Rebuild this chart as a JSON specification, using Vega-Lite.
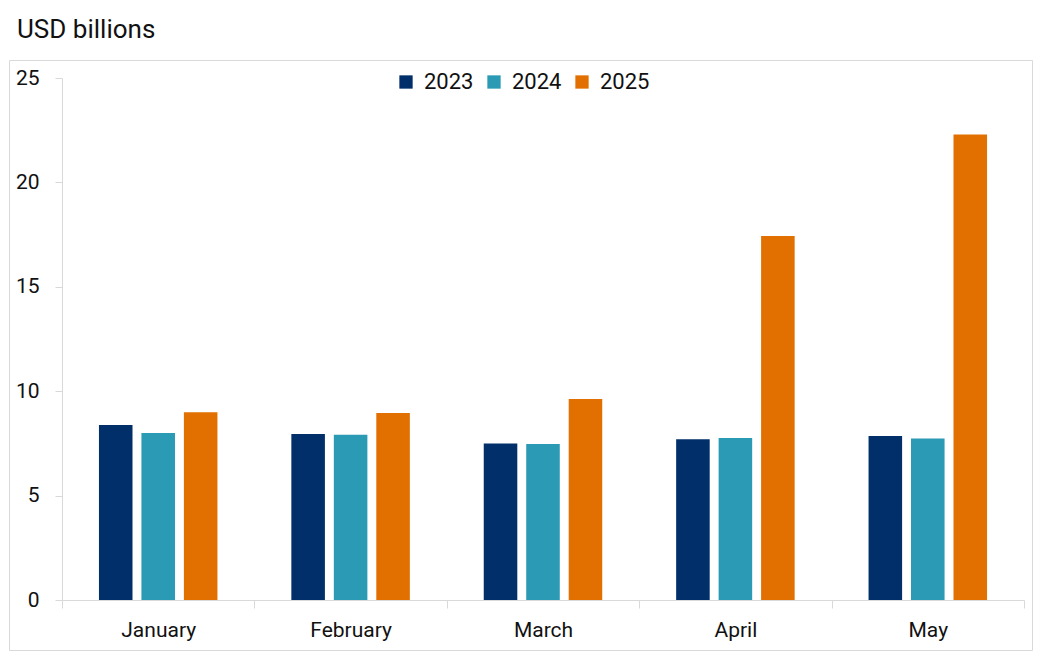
{
  "$schema": "https://vega.github.io/schema/vega-lite/v6.json",
  "width": 1023,
  "height": 590,
  "autosize": {"type": "none"},
  "padding": {"left": 9, "top": 60, "right": 20, "bottom": 1},
  "background": "white",
  "title": {
    "text": "USD billions",
    "anchor": "start",
    "frame": "group",
    "dx": 8,
    "dy": 28,
    "offset": 24,
    "baseline": "alphabetic",
    "fontSize": 26,
    "fontWeight": "normal",
    "font": "Roboto",
    "color": "#111111"
  },
  "data": {
    "values": [
      {"month": "January", "year": "2023", "value": 8.38},
      {"month": "January", "year": "2024", "value": 8.0},
      {"month": "January", "year": "2025", "value": 8.99},
      {"month": "February", "year": "2023", "value": 7.95},
      {"month": "February", "year": "2024", "value": 7.92},
      {"month": "February", "year": "2025", "value": 8.96},
      {"month": "March", "year": "2023", "value": 7.5},
      {"month": "March", "year": "2024", "value": 7.47},
      {"month": "March", "year": "2025", "value": 9.63},
      {"month": "April", "year": "2023", "value": 7.7},
      {"month": "April", "year": "2024", "value": 7.76},
      {"month": "April", "year": "2025", "value": 17.43},
      {"month": "May", "year": "2023", "value": 7.85},
      {"month": "May", "year": "2024", "value": 7.74},
      {"month": "May", "year": "2025", "value": 22.3}
    ]
  },
  "mark": {"type": "bar"},
  "encoding": {
    "x": {
      "field": "month",
      "type": "nominal",
      "sort": ["January", "February", "March", "April", "May"],
      "scale": {"range": [53, 1015], "paddingInner": 0, "paddingOuter": 0},
      "axis": {
        "title": null,
        "offset": -50,
        "tickBand": "extent",
        "tickSize": 8,
        "tickColor": "#d9d9d9",
        "domainColor": "#d9d9d9",
        "labelAngle": 0,
        "labelFontSize": 21,
        "labelColor": "#111111",
        "labelPadding": 11,
        "grid": false
      }
    },
    "xOffset": {
      "field": "year",
      "type": "nominal",
      "scale": {"paddingInner": 0.21, "paddingOuter": 0.87}
    },
    "y": {
      "field": "value",
      "type": "quantitative",
      "scale": {"domain": [0, 25], "range": [540, 18], "nice": false},
      "axis": {
        "title": null,
        "offset": -53,
        "values": [0, 5, 10, 15, 20, 25],
        "tickSize": 7,
        "tickColor": "#d9d9d9",
        "domainColor": "#d9d9d9",
        "labelFontSize": 21,
        "labelColor": "#111111",
        "labelPadding": 16,
        "grid": false
      }
    },
    "color": {
      "field": "year",
      "type": "nominal",
      "scale": {"domain": ["2023", "2024", "2025"], "range": ["#012f6a", "#2a9ab5", "#e17000"]},
      "legend": {
        "title": null,
        "orient": "none",
        "legendX": 386,
        "legendY": 11,
        "direction": "horizontal",
        "symbolType": "square",
        "symbolSize": 177,
        "symbolStrokeWidth": 0,
        "labelFontSize": 22,
        "labelColor": "#111111",
        "labelOffset": 7,
        "columnPadding": 9,
        "padding": 0
      }
    }
  },
  "config": {
    "view": {"stroke": "#d9d9d9"},
    "font": "Roboto"
  }
}
